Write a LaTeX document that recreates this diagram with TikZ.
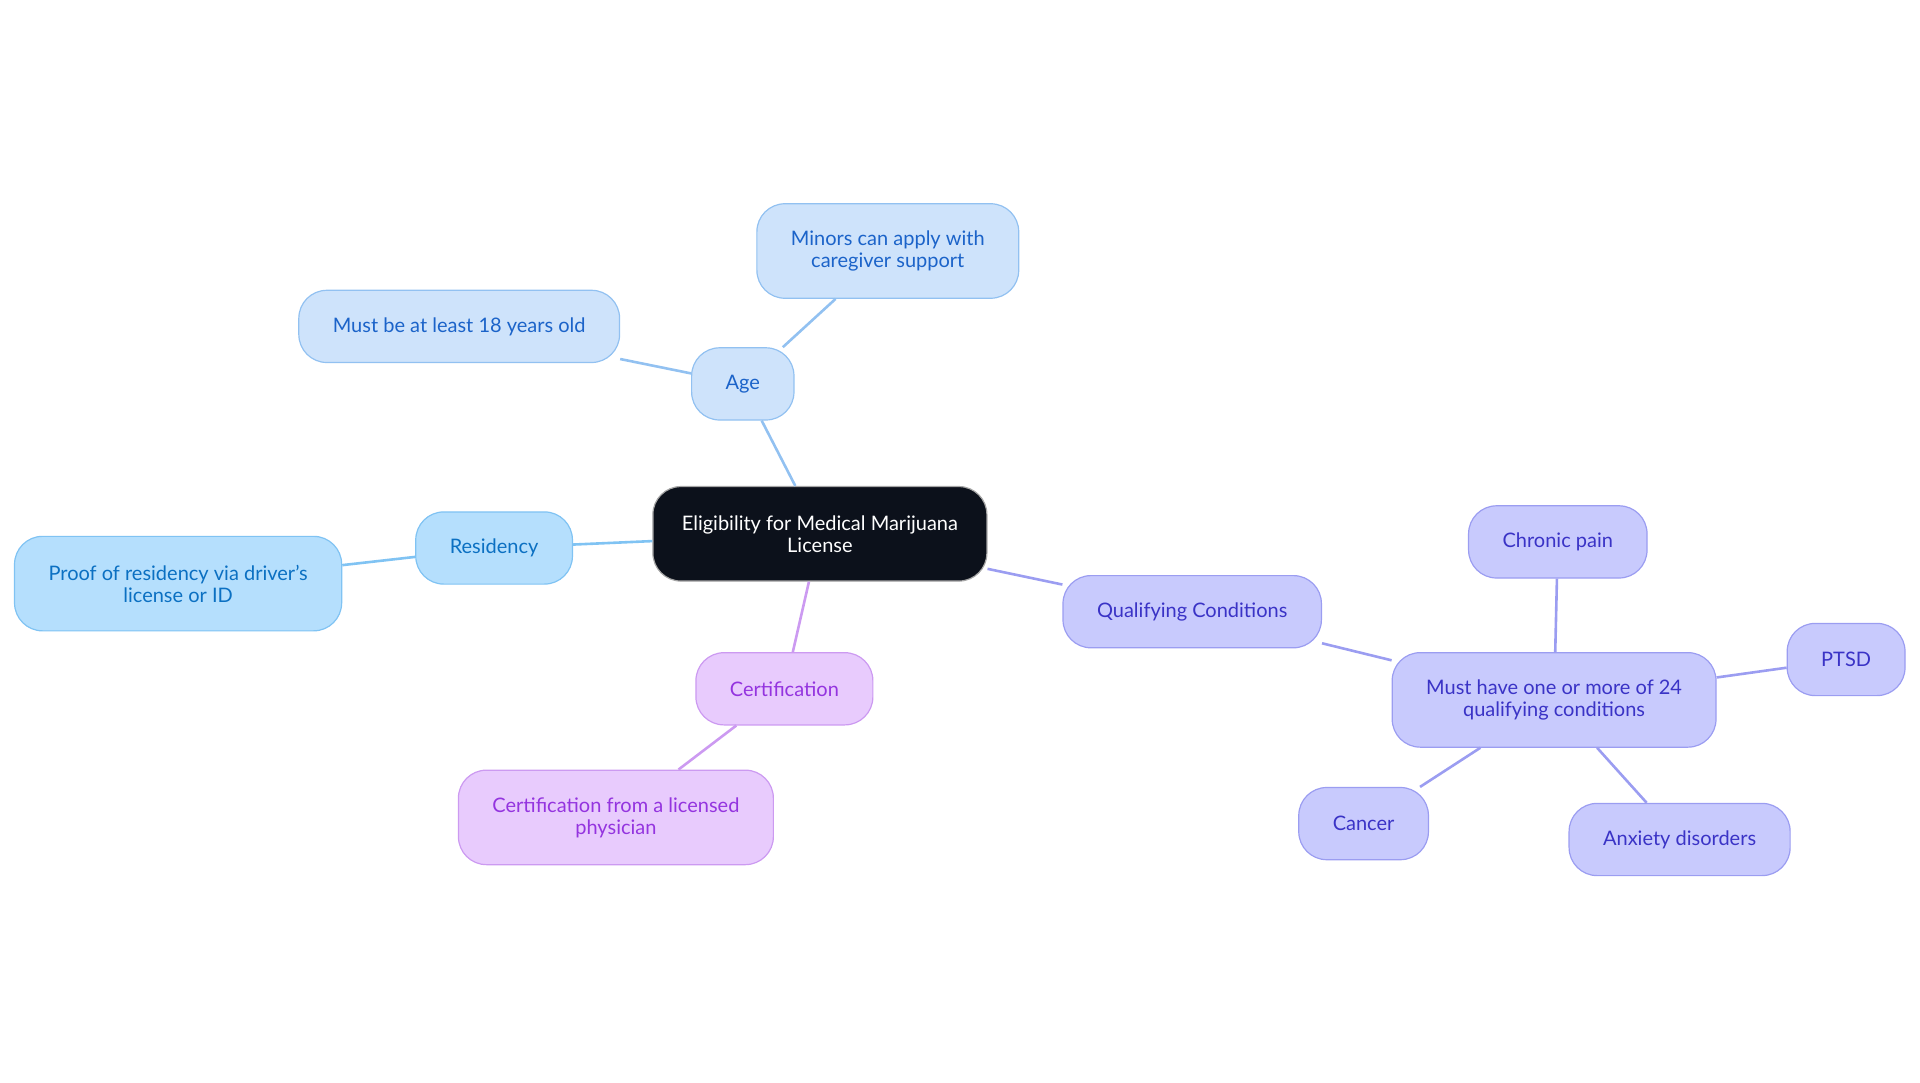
\documentclass[tikz,border=0pt]{standalone}
\usepackage{fontspec}
\setmainfont{Lato}
\begin{document}
\begin{tikzpicture}[x=1pt, y=-1pt, font=\fontsize{20}{22}\selectfont]

\definecolor{rootfill}{HTML}{0C111B}
\definecolor{agefill}{HTML}{CEE3FB}
\definecolor{ageline}{HTML}{92C1F1}
\definecolor{agetext}{HTML}{1B63C9}
\definecolor{resfill}{HTML}{B5DFFD}
\definecolor{resline}{HTML}{80C3F3}
\definecolor{restext}{HTML}{0B70C2}
\definecolor{certfill}{HTML}{E8CBFD}
\definecolor{certline}{HTML}{CC9AF1}
\definecolor{certtext}{HTML}{9434DF}
\definecolor{qualfill}{HTML}{C8CAFD}
\definecolor{qualline}{HTML}{9B9DF1}
\definecolor{qualtext}{HTML}{3A33C6}

\tikzset{
  box/.style={draw, line width=1.2pt, rounded corners=28pt, align=center,
    inner xsep=34pt, inner ysep=0pt, minimum height=72.2pt},
  tall/.style={minimum height=94.5pt},
  agebox/.style={box, fill=agefill, draw=ageline, text=agetext},
  resbox/.style={box, fill=resfill, draw=resline, text=restext},
  certbox/.style={box, fill=certfill, draw=certline, text=certtext},
  qualbox/.style={box, fill=qualfill, draw=qualline, text=qualtext},
  link/.style={line width=2.6pt}
}

\useasboundingbox (0,0) rectangle (1920,1083);

% --- Raiz ---
\node[box, tall, fill=rootfill, draw=gray!70, text=white, inner xsep=20pt, minimum width=334pt] (root) at (819.9,533.8)
  {Eligibility for Medical Marijuana\\License};

% --- Ramo: idade ---
\node[agebox] (age) at (742.8,383.9) {Age};
\node[agebox, tall] (minors) at (887.8,251.0) {Minors can apply with\\caregiver support};
\node[agebox] (adult) at (459.2,326.4) {Must be at least 18 years old};

% --- Ramo: residência ---
\node[resbox] (res) at (494.1,548.0) {Residency};
\node[resbox, tall] (proof) at (178.1,583.6) {Proof of residency via driver's\\license or ID};

% --- Ramo: certificação ---
\node[certbox] (cert) at (784.4,688.8) {Certification};
\node[certbox, tall] (physician) at (615.9,817.4) {Certification from a licensed\\physician};

% --- Ramo: condições ---
\node[qualbox] (qual) at (1192.2,611.7) {Qualifying Conditions};
\node[qualbox, tall] (conds) at (1554.1,699.9) {Must have one or more of 24\\qualifying conditions};
\node[qualbox] (pain) at (1557.8,541.9) {Chronic pain};
\node[qualbox] (ptsd) at (1846.1,659.5) {PTSD};
\node[qualbox] (cancer) at (1363.6,823.6) {Cancer};
\node[qualbox] (anxiety) at (1679.6,839.5) {Anxiety disorders};

% --- Ligações ---
\draw[link, ageline] (root) -- (age);
\draw[link, ageline] (age) -- (minors);
\draw[link, ageline] (age) -- (adult);

\draw[link, resline] (root) -- (res);
\draw[link, resline] (res) -- (proof);

\draw[link, certline] (root) -- (cert);
\draw[link, certline] (cert) -- (physician);

\draw[link, qualline] (root) -- (qual);
\draw[link, qualline] (qual) -- (conds);
\draw[link, qualline] (conds) -- (pain);
\draw[link, qualline] (conds) -- (ptsd);
\draw[link, qualline] (conds) -- (cancer);
\draw[link, qualline] (conds) -- (anxiety);

\end{tikzpicture}
\end{document}
